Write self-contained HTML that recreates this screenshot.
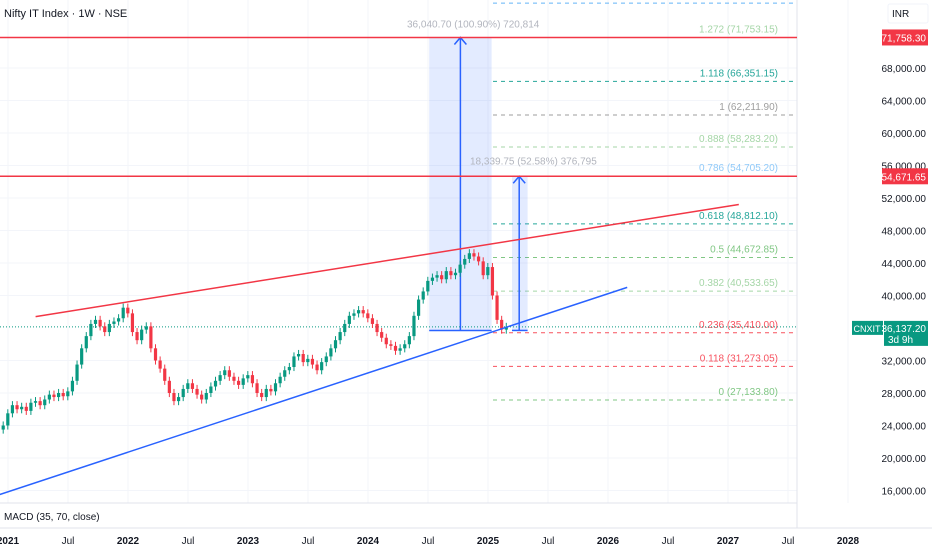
<!DOCTYPE html>
<html><head><meta charset="utf-8"><style>
html,body{margin:0;padding:0;background:#fff;}
svg{display:block;font-family:"Liberation Sans",sans-serif;}
</style></head><body>
<svg id="chart" width="932" height="550" viewBox="0 0 932 550">
<g id="grid"></g>
<g id="fib"></g>
<g id="measure"></g>
<line x1="0" x2="797" id="lastLine" stroke="#089981" stroke-width="1" stroke-dasharray="1,2"/>
<g id="candles"></g>
<g id="trend"></g>
<g id="axes"></g>
<text x="4" y="17" font-size="11" fill="#131722">Nifty IT Index · 1W · NSE</text>
<text x="4" y="520" font-size="10" fill="#131722">MACD (35, 70, close)</text>
</svg>
<script>
const closes = [24000,25500,26500,26000,26300,25800,26800,27000,26500,27200,27800,27500,28000,27600,28200,29500,31500,33500,35000,36500,37000,36200,35500,36500,36800,37200,
38500,37800,35500,34500,35800,36200,33500,32000,31000,29500,28000,27000,27500,28500,29200,28500,27800,27200,28000,28800,29500,30200,30800,30000,29500,29000,
29800,30200,29200,28000,27500,28500,28200,29200,30000,30800,31200,32500,32800,31800,32200,31500,30800,31800,32500,33500,34500,35500,36500,37500,37800,38200,
37800,37200,36500,35500,34800,34000,33800,33200,33500,34000,35000,37500,39500,40500,41800,42200,42500,42000,43000,42500,42800,43800,44500,45200,44800,44200,
42500,43500,40000,37000,35800,36137];
const priceTicks = [68000,64000,60000,56000,52000,48000,44000,40000,32000,28000,24000,20000,16000];
const timeTicks = [2021,2021.5,2022,2022.5,2023,2023.5,2024,2024.5,2025,2025.5,2026,2026.5,2027,2027.5,2028];
const timeLabels = ["2021","Jul","2022","Jul","2023","Jul","2024","Jul","2025","Jul","2026","Jul","2027","Jul","2028"];
const fibRatios = [1.382,1.272,1.118,1,0.888,0.786,0.618,0.5,0.382,0.236,0.118,0];
const fibPrices = [75990,71753.15,66351.15,62211.90,58283.20,54705.20,48812.10,44672.85,40533.65,35410,31273.05,27133.80];
const fibLabels = ["1.382 (75,990)","1.272 (71,753.15)","1.118 (66,351.15)","1 (62,211.90)","0.888 (58,283.20)","0.786 (54,705.20)","0.618 (48,812.10)","0.5 (44,672.85)","0.382 (40,533.65)","0.236 (35,410.00)","0.118 (31,273.05)","0 (27,133.80)"];
const fibColors = ["#64b5f6","#a5d6a7","#26a69a","#9e9e9e","#a5d6a7","#90caf9","#26a69a","#81c784","#a5d6a7","#f7525f","#f7525f","#81c784"];
const hLevels = [71758.30,54671.65];
const lastPrice = 36137.20;
const resist = [[2021.23,37400],[2027.09,51200]];
const support = [[2020.93,15500],[2026.16,41000]];

const NS='http://www.w3.org/2000/svg';
const y = p => 68 + (68000 - p) * 0.008125;
const x = t => 8 + (t - 2021) * 120;
function el(tag, attrs, parent){const e=document.createElementNS(NS,tag);for(const k in attrs)e.setAttribute(k,attrs[k]);parent.appendChild(e);return e;}
const grid=document.getElementById('grid'),axes=document.getElementById('axes');
priceTicks.forEach(p=>{
  const g=el('line',{x1:0,x2:797,y1:y(p),y2:y(p),stroke:'#f3f5fa'},grid);
  
  
  const t=el('text',{x:926,y:y(p)+4,'font-size':10,fill:'#131722','text-anchor':'end'},axes);
  t.textContent=p.toLocaleString('en-US',{minimumFractionDigits:2});
  
  
});
timeTicks.forEach((tt,i)=>{
  const g=el('line',{x1:x(tt),x2:x(tt),y1:0,y2:503,stroke:'#f3f5fa'},grid);
  
  
  const t=el('text',{x:x(tt),y:544,'font-size':10,fill:'#131722','text-anchor':'middle','font-weight':timeLabels[i]==='Jul'?'normal':'bold'},axes);
  t.textContent=timeLabels[i];
  
  
});
[[0,503,797,503],[0,528,932,528],[797,0,797,528]].forEach(a=>{
  const l=el('line',{x1:a[0],y1:a[1],x2:a[2],y2:a[3],stroke:'#e0e3eb'},axes);
  
  
});
const fib=document.getElementById('fib');
fibPrices.forEach((p,i)=>{
  const l=el('line',{x1:493,x2:795,y1:y(p),y2:y(p),stroke:fibColors[i],'stroke-dasharray':'4,4'},fib);
  
  
  const t=el('text',{x:778,y:y(p)-5,'font-size':10,fill:fibColors[i],'text-anchor':'end'},fib);
  t.textContent=fibLabels[i];
  
  
});
const m=document.getElementById('measure');
const base=y(35700);
[[2024.51,2025.03,2024.77,hLevels[0],'36,040.70 (100.90%) 720,814',407,y(hLevels[0])-14],[2025.2,2025.33,2025.26,hLevels[1],'18,339.75 (52.58%) 376,795',470,y(hLevels[1])-16]].forEach(r=>{
  const rc=el('rect',{x:x(r[0]),y:y(r[3]),width:x(r[1])-x(r[0]),height:base-y(r[3]),fill:'#2962ff','fill-opacity':0.13},m);
  
  
  el('line',{x1:x(r[0]),x2:x(r[1]),y1:base,y2:base,stroke:'#2962ff','stroke-width':1.5},m);
  el('line',{x1:x(r[2]),x2:x(r[2]),y1:base,y2:y(r[3]),stroke:'#2962ff','stroke-width':1.5},m);
  el('polyline',{points:`${x(r[2])-6},${y(r[3])+7} ${x(r[2])},${y(r[3])} ${x(r[2])+6},${y(r[3])+7}`,fill:'none',stroke:'#2962ff','stroke-width':1.5},m);
  const t=el('text',{x:r[5],y:r[6]+4,'font-size':10,fill:'#b2b5be'},m);
  t.textContent=r[4];
  
  
});
hLevels.forEach(p=>{
  const l=el('line',{x1:0,x2:797,y1:y(p),y2:y(p),stroke:'#f23645','stroke-width':1.5},axes);
  
  
  el('rect',{x:882,y:y(p)-8,width:46,height:16,fill:'#f23645'},axes);
  const t=el('text',{x:926,y:y(p)+4,'font-size':10,fill:'#fff','text-anchor':'end'},axes);
  t.textContent=p.toLocaleString('en-US',{minimumFractionDigits:2});
  
  
});
const ll=document.getElementById('lastLine');ll.setAttribute('y1',y(lastPrice));ll.setAttribute('y2',y(lastPrice));
const cg=document.getElementById('candles');
closes.forEach((c,i)=>{
  const o=i===0?23500:closes[i-1];
  const cx=x(2020.96+i/26);
  const up=c>=o,col=up?'#089981':'#f23645';
  const hi=Math.max(o,c)+500,lo=Math.min(o,c)-500;
  el('line',{x1:cx,x2:cx,y1:y(hi),y2:y(lo),stroke:col},cg);
  const r=el('rect',{x:cx-1.6,y:y(Math.max(o,c)),width:3.2,height:Math.max(1,Math.abs(y(o)-y(c))),fill:col},cg);
  
  
});
const tg=document.getElementById('trend');
[[resist,'#f23645','resistance-trendline'],[support,'#2962ff','support-trendline']].forEach(s=>{
  const l=el('line',{x1:x(s[0][0][0]),y1:y(s[0][0][1]),x2:x(s[0][1][0]),y2:y(s[0][1][1]),stroke:s[1],'stroke-width':1.5},tg);
  
  
});
const yl=y(lastPrice);
el('rect',{x:852,y:yl-6,width:31,height:14,fill:'#089981'},axes);
const tc=el('text',{x:867,y:yl+5,'font-size':9,fill:'#fff','text-anchor':'middle'},axes);
tc.textContent='CNXIT';


el('rect',{x:884,y:yl-6,width:44,height:25,fill:'#089981'},axes);
const tp=el('text',{x:926,y:yl+5,'font-size':10,fill:'#fff','text-anchor':'end'},axes);
tp.textContent='36,137.20';


const tt2=el('text',{x:888,y:yl+16,'font-size':10,fill:'#fff'},axes);
tt2.textContent='3d 9h';


el('rect',{x:888,y:4,width:40,height:19,fill:'#fff',stroke:'#f0f3fa',rx:2},axes);
const inr=el('text',{x:892,y:17,'font-size':10,fill:'#131722'},axes);
inr.textContent='INR';


</script>
</body></html>
